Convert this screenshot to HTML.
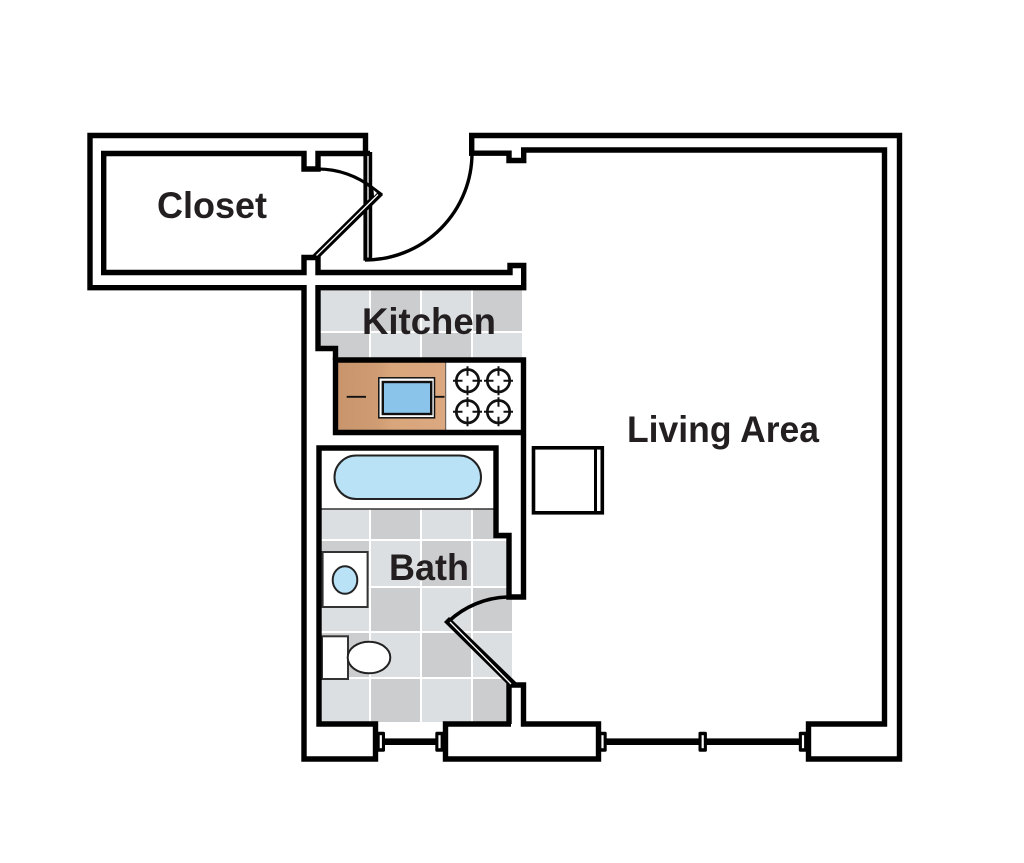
<!DOCTYPE html>
<html>
<head>
<meta charset="utf-8">
<style>
html,body{margin:0;padding:0;background:#fff;}
svg{display:block;}
text{font-family:"Liberation Sans",sans-serif;font-weight:bold;fill:#231f20;}
</style>
</head>
<body>
<svg width="1024" height="863" viewBox="0 0 1024 863" xmlns="http://www.w3.org/2000/svg">
<defs>
<clipPath id="bathclip"><polygon points="321,509 494,509 494,538 507,538 507,597 512,597 512,685 507,685 507,722 321,722"/></clipPath>
<clipPath id="kitclip"><polygon points="320,290 522,290 522,358 338,358 338,351 320,351"/></clipPath>
<linearGradient id="wood" x1="0" x2="1" y1="0" y2="0">
<stop offset="0" stop-color="#c8956c"/><stop offset="0.35" stop-color="#cf9b72"/><stop offset="0.5" stop-color="#d9a57b"/><stop offset="1" stop-color="#dca880"/>
</linearGradient>
<g id="burner" fill="none" stroke="#111">
<circle r="11.2" stroke-width="2.7"/>
<path d="M-14.5,0H-5M5,0H14.5M0,-14.5V-5M0,5V14.5" stroke-width="2"/>
</g>
<g id="cap"><rect x="-4.2" y="-10" width="8.4" height="20" rx="1.5" fill="#000"/><rect x="-1.1" y="-6.5" width="2.2" height="13" fill="#fff"/></g>
</defs>

<!-- kitchen tile -->
<g clip-path="url(#kitclip)">
<rect x="320" y="290" width="49" height="41" fill="#dcdfe2"/>
<rect x="371" y="290" width="49" height="41" fill="#cccdcf"/>
<rect x="422" y="290" width="49" height="41" fill="#dcdfe2"/>
<rect x="473" y="290" width="49" height="41" fill="#cccdcf"/>
<rect x="320" y="333" width="49" height="26" fill="#cccdcf"/>
<rect x="371" y="333" width="49" height="26" fill="#dcdfe2"/>
<rect x="422" y="333" width="49" height="26" fill="#cccdcf"/>
<rect x="473" y="333" width="49" height="26" fill="#dcdfe2"/>
</g>

<!-- bath tile -->
<g clip-path="url(#bathclip)">
<rect x="321" y="509" width="48" height="30" fill="#dcdfe2"/>
<rect x="371" y="509" width="49" height="30" fill="#cccdcf"/>
<rect x="422" y="509" width="49" height="30" fill="#dcdfe2"/>
<rect x="473" y="509" width="40" height="30" fill="#cccdcf"/>
<rect x="321" y="541" width="48" height="45" fill="#cccdcf"/>
<rect x="371" y="541" width="49" height="45" fill="#dcdfe2"/>
<rect x="422" y="541" width="49" height="45" fill="#cccdcf"/>
<rect x="473" y="541" width="40" height="45" fill="#dcdfe2"/>
<rect x="321" y="588" width="48" height="43" fill="#dcdfe2"/>
<rect x="371" y="588" width="49" height="43" fill="#cccdcf"/>
<rect x="422" y="588" width="49" height="43" fill="#dcdfe2"/>
<rect x="473" y="588" width="40" height="43" fill="#cccdcf"/>
<rect x="321" y="633" width="48" height="44" fill="#cccdcf"/>
<rect x="371" y="633" width="49" height="44" fill="#dcdfe2"/>
<rect x="422" y="633" width="49" height="44" fill="#cccdcf"/>
<rect x="473" y="633" width="40" height="44" fill="#dcdfe2"/>
<rect x="321" y="679" width="48" height="43" fill="#dcdfe2"/>
<rect x="371" y="679" width="49" height="43" fill="#cccdcf"/>
<rect x="422" y="679" width="49" height="43" fill="#dcdfe2"/>
<rect x="473" y="679" width="40" height="43" fill="#cccdcf"/>
</g>
<line x1="321" y1="509" x2="494" y2="509" stroke="#333" stroke-width="1.5"/>

<!-- counter -->
<rect x="338" y="362" width="108" height="69" fill="url(#wood)"/>
<rect x="446" y="362" width="76" height="69" fill="#fff"/>
<line x1="445.7" y1="362" x2="445.7" y2="431" stroke="#555" stroke-width="1"/>
<rect x="378.8" y="377.8" width="55.7" height="40" fill="#fff" stroke="#111" stroke-width="1.5"/>
<rect x="382.8" y="382" width="48.4" height="32" fill="#8bc4ea" stroke="#111" stroke-width="2.4"/>
<path d="M346.7,396.8H366M435,396.8H444.5" stroke="#111" stroke-width="1.8" fill="none"/>
<use href="#burner" x="467.5" y="380.7"/>
<use href="#burner" x="498.5" y="380.7"/>
<use href="#burner" x="467.5" y="411.7"/>
<use href="#burner" x="498.5" y="411.7"/>

<!-- tub -->
<rect x="334.5" y="455.5" width="146.5" height="43.5" rx="21.7" fill="#b9e2f7" stroke="#222" stroke-width="2"/>

<!-- sink -->
<rect x="322.6" y="552" width="45" height="55" fill="#fff" stroke="#333" stroke-width="2"/>
<ellipse cx="345" cy="580" rx="12.3" ry="13.8" fill="#b9e2f7" stroke="#222" stroke-width="2"/>

<!-- toilet -->
<rect x="322" y="636.3" width="26" height="42.7" fill="#fff" stroke="#333" stroke-width="2"/>
<ellipse cx="369" cy="657.5" rx="21.3" ry="15.8" fill="#fff" stroke="#222" stroke-width="2"/>

<!-- walls -->
<g fill="none" stroke="#000" stroke-width="5.4" stroke-linejoin="miter" stroke-linecap="butt">
<path d="M365.5,156 V135.5 H90 V287.7 H304 V759 H375.5 V724 H319 V448 H496 V535.5 H509 V597 H523.5 V360 H335.5 V432.5 H523.5"/>
<path d="M370,153.5 H318 V169 H304 V153.5 H103.7 V272.5 H304 V257.5 H318 V272.5 H510 V265.5 H523.7 V287.7 H318 V348.5 H335.5 V360"/>
<path d="M471.7,155 V135.5 H899.5 V759 H808.5 V724 H884.5 V150 H523.7 V160.5 H509 V153.2 H469"/>
<path d="M509,724 V685 H523.5 V724 H598.5 V759 H445.5 V724 H511"/>
</g>

<!-- window -->
<rect x="383" y="738.4" width="54" height="6.6" fill="#000"/>
<rect x="605" y="738.4" width="195" height="6.6" fill="#000"/>
<use href="#cap" x="380.8" y="741.7"/>
<use href="#cap" x="439.5" y="741.7"/>
<use href="#cap" x="602.5" y="741.7"/>
<use href="#cap" x="702.7" y="741.7"/>
<use href="#cap" x="803" y="741.7"/>

<!-- large door panel and arc -->
<rect x="363.4" y="152" width="8.8" height="108.6" fill="#000"/>
<line x1="368" y1="156" x2="368" y2="257.5" stroke="#fff" stroke-width="1.3"/>
<path d="M365,260 A107,107 0 0 0 472,153" fill="none" stroke="#000" stroke-width="3.4"/>

<!-- closet door -->
<path d="M318,169 A88,88 0 0 1 373,188.3 L382,195" fill="none" stroke="#000" stroke-width="3.2"/>
<polygon points="312.5,255 372,196 372,186 383,195 318,259" fill="#000"/>
<line x1="316.5" y1="255.5" x2="378" y2="194.5" stroke="#fff" stroke-width="1.3"/>
<polygon points="373.5,190 377,193 374,196" fill="#fff"/>

<!-- bath door -->
<path d="M507,597 A90,90 0 0 0 449,621" fill="none" stroke="#000" stroke-width="3.6"/>
<polygon points="444,622 449,617 518,684 510,687" fill="#000"/>
<line x1="450" y1="622" x2="511" y2="684" stroke="#fff" stroke-width="1.3"/>

<!-- cabinet -->
<rect x="533.5" y="447.8" width="68.8" height="65" fill="#fff" stroke="#000" stroke-width="3.6"/>
<rect x="594" y="447.5" width="3" height="65.5" fill="#000"/>

<!-- labels -->
<text x="157" y="218" font-size="37" textLength="110" lengthAdjust="spacingAndGlyphs">Closet</text>
<text x="362" y="334" font-size="37" textLength="134" lengthAdjust="spacingAndGlyphs">Kitchen</text>
<text x="389" y="580" font-size="37" textLength="80" lengthAdjust="spacingAndGlyphs">Bath</text>
<text x="627" y="442" font-size="37" textLength="192" lengthAdjust="spacingAndGlyphs">Living Area</text>
</svg>
</body>
</html>
